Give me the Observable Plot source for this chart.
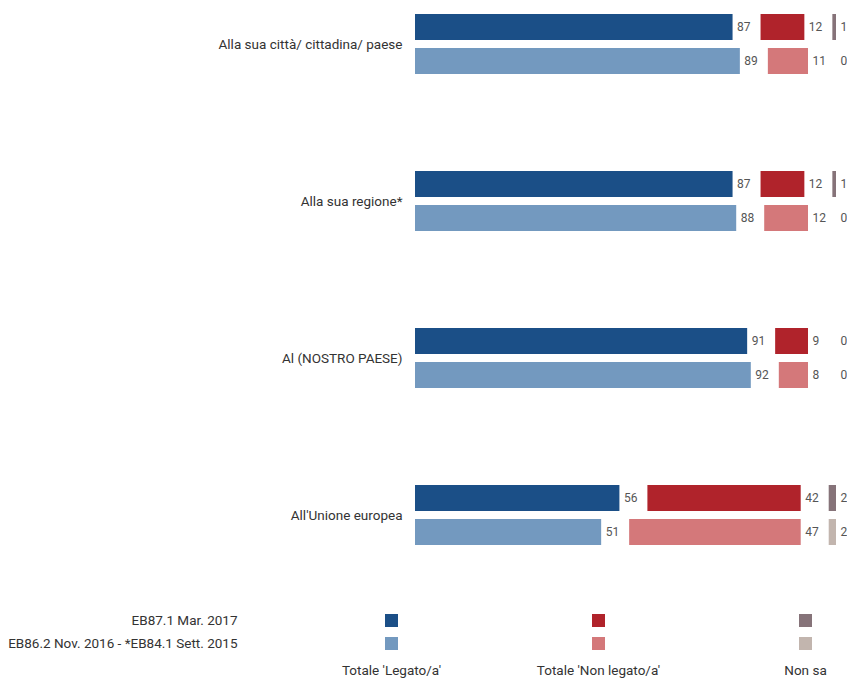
<!DOCTYPE html>
<html>
<head>
<meta charset="utf-8">
<script src="https://cdn.jsdelivr.net/npm/d3@7"></script>
<script src="https://cdn.jsdelivr.net/npm/@observablehq/plot@0.6"></script>
<style>
  html, body { margin: 0; padding: 0; background: #fff; }
  #chart svg { display: block; }
</style>
</head>
<body>
<div id="chart"></div>
<script>
// ---- data ----
const categories = [
  "Alla sua città/ cittadina/ paese",
  "Alla sua regione*",
  "Al (NOSTRO PAESE)",
  "All'Unione europea"
];
const waves = ["EB87.1 Mar. 2017", "EB86.2 Nov. 2016 - *EB84.1 Sett. 2015"];
const answers = ["Totale 'Legato/a'", "Totale 'Non legato/a'", "Non sa"];

const legato2017 = [87, 87, 91, 56];
const legatoPrev = [89, 88, 92, 51];
const nonLegato2017 = [12, 12, 9, 42];
const nonLegatoPrev = [11, 12, 8, 47];
const nonSa2017 = [1, 1, 0, 2];
const nonSaPrev = [0, 0, 0, 2];

const colors2017 = ["#1b4f87", "#b0232b", "#867379"];
const colorsPrev = ["#7399bf", "#d4787a", "#c2b5ae"];

// ---- build table ----
const series = [
  [legato2017, legatoPrev],
  [nonLegato2017, nonLegatoPrev],
  [nonSa2017, nonSaPrev]
];
const GAP = 7.67; // room for the value label between segments (in value units)
const rows = [];
categories.forEach((c, i) => {
  waves.forEach((w, j) => {
    let start = 0;
    answers.forEach((a, k) => {
      const v = series[k][j][i];
      rows.push({category: c, wave: w, answer: a, value: v, x1: start, x2: start + v, key: a + "|" + w});
      start += v + GAP;
    });
  });
});
const colorDomain = [], colorRange = [];
answers.forEach((a, k) => {
  colorDomain.push(a + "|" + waves[0]); colorRange.push(colors2017[k]);
  colorDomain.push(a + "|" + waves[1]); colorRange.push(colorsPrev[k]);
});

const FONT = "Roboto, 'Open Sans', sans-serif";

const chart = Plot.plot({
  width: 847,
  height: 560,
  marginLeft: 415,
  marginRight: 11,
  marginTop: 14,
  marginBottom: 15,
  style: {fontFamily: FONT, fontSize: "13.5px", color: "#333", background: "#fff"},
  x: {domain: [0, 100 + 2 * GAP], axis: null},
  y: {domain: waves, paddingInner: 8 / 34, paddingOuter: 0, axis: null},
  fy: {domain: categories, paddingInner: 97 / 157, paddingOuter: 0, axis: "left", tickSize: 0, tickPadding: 13, label: null},
  color: {domain: colorDomain, range: colorRange},
  marks: [
    Plot.rectX(rows.filter(d => d.value > 0), {x1: "x1", x2: "x2", y: "wave", fy: "category", fill: "key"}),
    Plot.ruleX(rows.filter(d => d.value === 0), {x: "x1", y: "wave", fy: "category", stroke: "#dcdcdc", strokeWidth: 1}),
    Plot.text(rows, {x: "x2", y: "wave", fy: "category", text: d => String(d.value), textAnchor: "start", dx: 4, fill: "#555", fontSize: 12})
  ]
});

// ---- legend ----
const legendRows = [];
answers.forEach((a, k) => waves.forEach(w => legendRows.push({answer: a, wave: w, key: a + "|" + w})));

const legend = Plot.plot({
  width: 847,
  height: 122,
  marginLeft: 240,
  marginRight: 20,
  marginTop: 0,
  marginBottom: 18,
  style: {fontFamily: FONT, fontSize: "13.5px", color: "#333", background: "#fff"},
  x: {type: "point", domain: answers, range: [390.5, 806], padding: 0, tickSize: 0, tickPadding: 1, label: null},
  y: {type: "point", domain: waves, range: [60, 83], padding: 0, tickSize: 0, tickPadding: 3, label: null},
  color: {domain: colorDomain, range: colorRange},
  marks: [
    Plot.dot(legendRows, {x: "answer", y: "wave", fill: "key", symbol: "square", r: 13 / Math.sqrt(Math.PI)})
  ]
});

document.getElementById("chart").append(chart, legend);
</script>
</body>
</html>
